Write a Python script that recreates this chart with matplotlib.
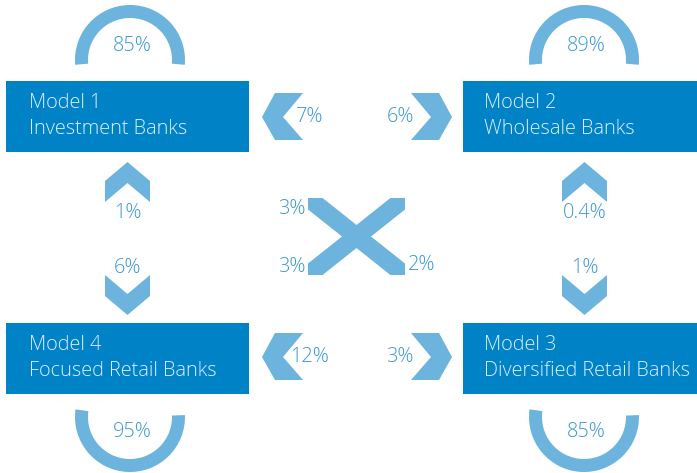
import matplotlib
matplotlib.use("Agg")
import matplotlib.pyplot as plt
from matplotlib.patches import Rectangle, Wedge, Polygon

# model boxes
model_titles = ["Model 1", "Model 2", "Model 3", "Model 4"]
model_names = ["Investment Banks", "Wholesale Banks",
               "Diversified Retail Banks", "Focused Retail Banks"]
# share staying in the same model (loop arcs)
stay_pct = ["85%", "89%", "85%", "95%"]
# horizontal moves: top row (into model1, into model2), bottom row (into model4, into model3)
horiz_pct = ["7%", "6%", "12%", "3%"]
# vertical moves: left column (up, down), right column (up, down)
vert_pct = ["1%", "6%", "0.4%", "1%"]
# diagonal moves
diag_pct = ["3%", "3%", "2%"]

BOX = "#0082c6"
SHAPE = "#6cb3de"
PCT = "#3a98d8"
BOXTXT = "#dcf0fb"

W, H = 697, 473
fig = plt.figure(figsize=(W / 100, H / 100), dpi=100)
ax = fig.add_axes([0, 0, 1, 1])
ax.set_xlim(0, W)
ax.set_ylim(H, 0)
ax.axis("off")

font = "Open Sans"
fs = 14.3

# boxes (x, y of top-left), pixel layout
box_pos = [(6, 81), (463, 81), (463, 323), (6, 323)]
for (bx, by), t, n in zip(box_pos, model_titles, model_names):
    left = bx < 300
    ax.add_patch(Rectangle((bx, by), 243 if left else 234, 71, color=BOX, lw=0))
    off = 23 if left else 21
    ax.text(bx + off, by + 22, t, color=BOXTXT, fontsize=fs, family=font,
            va="center", ha="left", fontweight="light")
    ax.text(bx + off, by + 48, n, color=BOXTXT, fontsize=fs, family=font,
            va="center", ha="left", fontweight="light")

# loop arcs
arc_c = [(130, 60), (584, 60), (584, 417), (130, 417)]
for (cx, cy), p in zip(arc_c, stay_pct):
    if cy < 200:
        th1, th2 = 175, 365
        ty = 46
    else:
        th1, th2 = -2, 188
        ty = 432
    ax.add_patch(Wedge((cx, cy), 55, th1, th2, width=13, color=SHAPE, lw=0))
    ax.text(cx + 2, ty, p, color=PCT, fontsize=fs, family=font,
            ha="center", va="center", fontweight="light")

# horizontal chevrons
def hchev(xtip, yc, direction):
    d = direction
    pts = [(xtip, yc), (xtip + d * 13, yc - 24), (xtip + d * 41, yc - 24),
           (xtip + d * 21, yc), (xtip + d * 41, yc + 23), (xtip + d * 13, yc + 23)]
    ax.add_patch(Polygon(pts, closed=True, color=SHAPE, lw=0))

for row, yc in enumerate([117, 357]):
    hchev(262, yc, 1)
    hchev(452, yc, -1)
    ax.text(310, yc, horiz_pct[2 * row], color=PCT, fontsize=fs, family=font,
            ha="center", va="center", fontweight="light")
    ax.text(400, yc, horiz_pct[2 * row + 1], color=PCT, fontsize=fs, family=font,
            ha="center", va="center", fontweight="light")

# vertical chevrons
def vchev(xc, ytip, direction):
    d = direction
    pts = [(xc, ytip), (xc + 22.5, ytip + d * 19), (xc + 22.5, ytip + d * 40),
           (xc, ytip + d * 21), (xc - 22.5, ytip + d * 40), (xc - 22.5, ytip + d * 19)]
    ax.add_patch(Polygon(pts, closed=True, color=SHAPE, lw=0))

for col, xc in enumerate([127.5, 584.5]):
    vchev(xc, 162, 1)
    vchev(xc, 315, -1)
    ax.text(xc, 213, vert_pct[2 * col], color=PCT, fontsize=fs, family=font,
            ha="center", va="center", fontweight="light")
    ax.text(xc, 268, vert_pct[2 * col + 1], color=PCT, fontsize=fs, family=font,
            ha="center", va="center", fontweight="light")

# diagonal cross
clip = Rectangle((308, 198), 97, 77, transform=ax.transData, fill=False, lw=0)
ax.add_patch(clip)
l1, = ax.plot([298, 415], [190, 283], color=SHAPE, lw=13, solid_capstyle="butt")
l2, = ax.plot([298, 415], [283, 190], color=SHAPE, lw=13, solid_capstyle="butt")
l1.set_clip_path(clip)
l2.set_clip_path(clip)
ax.text(292, 209, diag_pct[0], color=PCT, fontsize=fs, family=font,
        ha="center", va="center", fontweight="light")
ax.text(292, 267, diag_pct[1], color=PCT, fontsize=fs, family=font,
        ha="center", va="center", fontweight="light")
ax.text(422, 265, diag_pct[2], color=PCT, fontsize=fs, family=font,
        ha="center", va="center", fontweight="light")

fig.savefig("out.png", dpi=100)
